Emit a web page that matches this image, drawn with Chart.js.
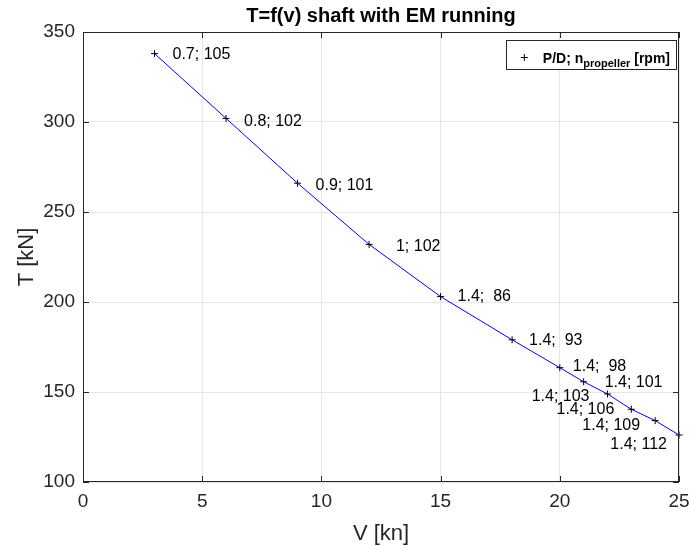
<!DOCTYPE html>
<html>
<head>
<meta charset="utf-8">
<title>T=f(v) shaft with EM running</title>
<script src="https://cdn.jsdelivr.net/npm/chart.js@4.4.1/dist/chart.umd.min.js"></script>
<style>
  html, body { margin: 0; padding: 0; background: #fff; }
  #wrap { width: 689px; height: 546px; position: relative; }
</style>
</head>
<body>
<div id="wrap"><canvas id="chart"></canvas></div>
<script>
// data
const speeds = [3, 6, 9, 12, 15, 18, 20, 21, 22, 23, 24, 25];
const thrust = [338, 302, 266, 232, 203, 179, 163.5, 155.7, 148.9, 140.4, 134.1, 126.1];
const pitchRatio = [0.7, 0.8, 0.9, 1, 1.4, 1.4, 1.4, 1.4, 1.4, 1.4, 1.4, 1.4];
const rpm = [105, 102, 101, 102, 86, 93, 98, 101, 103, 106, 109, 112];
const xTicks = [0, 5, 10, 15, 20, 25];
const yTicks = [100, 150, 200, 250, 300, 350];

// where each label sits relative to its point (pixels)
const labelSide = ['r', 'r', 'r', 'r', 'r', 'r', 'r', 'r', 'l', 'l', 'l', 'l'];
const labelDx = [18, 18, 18, 18, 17, 17, 13, 21, -18, -17, -15, -12];
const labelDy = [1, 3, 2, 2, 0, 1, -1, 1, 3, 0, 5, 10];

const FONT = '"Liberation Sans", Arial, Helvetica, sans-serif';
const AXIS_COLOR = '#262626';

// MATLAB-like formatting: %3.1g; %3d
function pad3(v) {
  const s = String(v);
  return s.length < 3 ? ' '.repeat(3 - s.length) + s : s;
}
const pointLabels = pitchRatio.map((p, i) => pad3(p) + '; ' + pad3(rpm[i]));

const matlabLook = {
  id: 'matlabLook',
  afterDraw(chart) {
    const ctx = chart.ctx;
    const area = chart.chartArea;
    const xs = chart.scales.x;
    const ys = chart.scales.y;
    ctx.save();

    // box and inward ticks
    ctx.strokeStyle = AXIS_COLOR;
    ctx.lineWidth = 1;
    ctx.strokeRect(area.left + 0.5, area.top + 0.5, area.right - area.left - 1, area.bottom - area.top - 1);
    const tl = 6;
    ctx.beginPath();
    xTicks.forEach(t => {
      const px = Math.round(xs.getPixelForValue(t)) + 0.5;
      ctx.moveTo(px, area.bottom); ctx.lineTo(px, area.bottom - tl);
      ctx.moveTo(px, area.top); ctx.lineTo(px, area.top + tl);
    });
    yTicks.forEach(t => {
      const py = Math.round(ys.getPixelForValue(t)) + 0.5;
      ctx.moveTo(area.left, py); ctx.lineTo(area.left + tl, py);
      ctx.moveTo(area.right, py); ctx.lineTo(area.right - tl, py);
    });
    ctx.stroke();

    // point labels
    ctx.fillStyle = '#000';
    ctx.font = '16px ' + FONT;
    ctx.textBaseline = 'middle';
    pointLabels.forEach((txt, i) => {
      const px = xs.getPixelForValue(speeds[i]);
      const py = ys.getPixelForValue(thrust[i]);
      ctx.textAlign = labelSide[i] === 'r' ? 'left' : 'right';
      ctx.fillText(labelSide[i] === 'r' ? txt : txt.trim(), px + labelDx[i], py + labelDy[i]);
    });

    // title
    ctx.fillStyle = '#000';
    ctx.font = 'bold 20px ' + FONT;
    ctx.textAlign = 'center';
    ctx.textBaseline = 'middle';
    ctx.fillText('T=f(v) shaft with EM running', (area.left + area.right) / 2, 16);

    // axis titles
    ctx.fillStyle = AXIS_COLOR;
    ctx.font = '22px ' + FONT;
    ctx.fillText('V [kn]', (area.left + area.right) / 2, 534);
    ctx.save();
    ctx.translate(27, (area.top + area.bottom) / 2);
    ctx.rotate(-Math.PI / 2);
    ctx.fillText('T [kN]', 0, 0);
    ctx.restore();

    // legend with subscript
    const big = 'bold 14px ' + FONT;
    const small = 'bold 11px ' + FONT;
    ctx.font = big;
    const w1 = ctx.measureText('P/D; n').width;
    const w3 = ctx.measureText(' [rpm]').width;
    ctx.font = small;
    const w2 = ctx.measureText('propeller').width;
    const boxRight = area.right - 3;
    const boxW = 37 + w1 + w2 + w3 + 6;
    const boxLeft = boxRight - boxW;
    const boxTop = 40, boxH = 29;
    ctx.fillStyle = '#fff';
    ctx.fillRect(boxLeft, boxTop, boxW, boxH);
    ctx.strokeStyle = AXIS_COLOR;
    ctx.strokeRect(Math.round(boxLeft) + 0.5, boxTop + 0.5, Math.round(boxW), boxH);
    const cy = boxTop + 17;
    ctx.strokeStyle = '#000';
    ctx.beginPath();
    ctx.moveTo(boxLeft + 15, cy + 0.5); ctx.lineTo(boxLeft + 22, cy + 0.5);
    ctx.moveTo(boxLeft + 18.5, cy - 3); ctx.lineTo(boxLeft + 18.5, cy + 4);
    ctx.stroke();
    ctx.fillStyle = '#000';
    ctx.textAlign = 'left';
    ctx.textBaseline = 'alphabetic';
    let tx = boxLeft + 37;
    const base = boxTop + 23;
    ctx.font = big;
    ctx.fillText('P/D; n', tx, base);
    tx += w1;
    ctx.font = small;
    ctx.fillText('propeller', tx, base + 4);
    tx += w2;
    ctx.font = big;
    ctx.fillText(' [rpm]', tx, base);

    ctx.restore();
  }
};

new Chart(document.getElementById('chart'), {
  type: 'line',
  data: {
    datasets: [{
      label: 'P/D; n propeller [rpm]',
      data: speeds.map((v, i) => ({ x: v, y: thrust[i] })),
      borderColor: '#0000ff',
      borderWidth: 1,
      pointStyle: 'cross',
      pointRadius: 3.5,
      pointBorderColor: '#000',
      pointBorderWidth: 1,
      pointBackgroundColor: '#000',
      tension: 0,
      fill: false,
      clip: false
    }]
  },
  options: {
    responsive: true,
    maintainAspectRatio: false,
    animation: false,
    layout: { padding: { top: 32, right: 10, left: 0, bottom: 0 } },
    plugins: {
      legend: { display: false },
      title: { display: false },
      tooltip: { enabled: false }
    },
    scales: {
      x: {
        type: 'linear',
        min: 0,
        max: 25,
        afterBuildTicks: scale => { scale.ticks = xTicks.map(v => ({ value: v })); },
        afterFit: scale => {
          scale.height = 64;
          scale.paddingLeft = 0;
          scale.paddingRight = 0;
        },
        grid: { color: '#e6e6e6', drawTicks: false },
        border: { display: false },
        ticks: {
          color: AXIS_COLOR,
          font: { family: FONT, size: 19 },
          padding: 8,
          maxRotation: 0
        }
      },
      y: {
        min: 100,
        max: 350,
        afterBuildTicks: scale => { scale.ticks = yTicks.map(v => ({ value: v })); },
        afterFit: scale => {
          scale.width = 83;
          scale.paddingTop = 0;
          scale.paddingBottom = 0;
        },
        grid: { color: '#e6e6e6', drawTicks: false },
        border: { display: false },
        ticks: {
          color: AXIS_COLOR,
          font: { family: FONT, size: 19 },
          padding: 8
        }
      }
    }
  },
  plugins: [matlabLook]
});
</script>
</body>
</html>
